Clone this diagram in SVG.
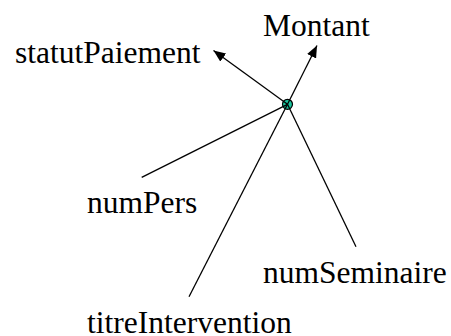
<svg xmlns="http://www.w3.org/2000/svg" width="451" height="336" viewBox="0 0 451 336">
<style>
.t{font-family:'Liberation Serif',Tinos,'DejaVu Serif',serif;font-size:31.5px;fill:#000}
.c{stroke:#000;stroke-width:1.3;fill:none}
</style>
<defs>
<marker id="ah" viewBox="0 0 12 10" refX="12" refY="5" markerWidth="12" markerHeight="10" markerUnits="userSpaceOnUse" orient="auto">
<path d="M0,0 L12,5 L0,10 Z" fill="#000"/>
</marker>
</defs>
<rect width="451" height="336" fill="#fff"/>
<g id="hub"><circle cx="287.5" cy="104.3" r="5" fill="#19c39c" stroke="#000" stroke-width="1.2"/></g>
<g id="connectors">
<line class="c" x1="287.5" y1="104.3" x2="213.5" y2="50.5" marker-end="url(#ah)"/>
<line class="c" x1="287.5" y1="104.3" x2="317" y2="45.5" marker-end="url(#ah)"/>
<line class="c" x1="287.5" y1="104.3" x2="141.7" y2="177.3"/>
<line class="c" x1="287.5" y1="104.3" x2="189" y2="296.7"/>
<line class="c" x1="287.5" y1="104.3" x2="356" y2="246.7"/>
</g>
<g id="statutPaiement"><text class="t" x="15" y="63" font-family="Liberation Serif, serif">statutPaiement</text></g>
<g id="Montant"><text class="t" x="263" y="36" font-family="Liberation Serif, serif">Montant</text></g>
<g id="numPers"><text class="t" x="87" y="213" font-family="Liberation Serif, serif">numPers</text></g>
<g id="numSeminaire"><text class="t" x="263" y="283" font-family="Liberation Serif, serif">numSeminaire</text></g>
<g id="titreIntervention"><text class="t" x="87" y="333" font-family="Liberation Serif, serif">titreIntervention</text></g>
</svg>
